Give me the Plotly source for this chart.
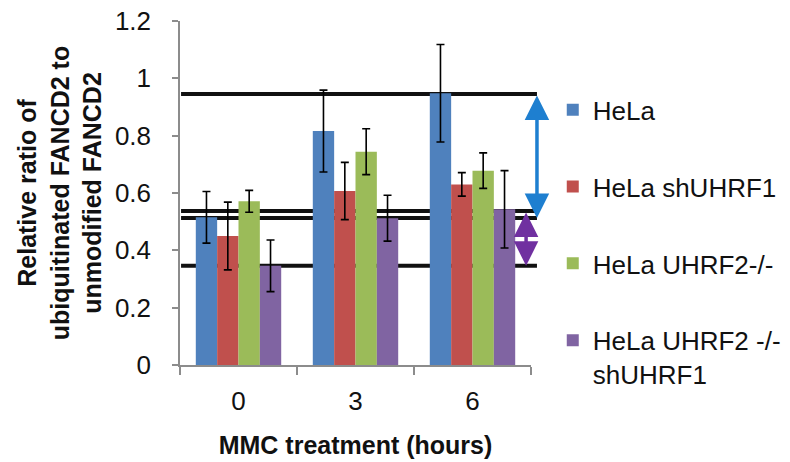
import plotly.graph_objects as go

categories = ["0", "3", "6"]
series_names = ["HeLa", "HeLa shUHRF1", "HeLa UHRF2-/-", "HeLa UHRF2 -/-<br>shUHRF1"]
series_colors = ["#4F81BD", "#C0504D", "#9BBB59", "#8064A2"]

hela = [0.515, 0.816, 0.948]
hela_err = [0.090, 0.143, 0.170]
hela_sh = [0.450, 0.607, 0.630]
hela_sh_err = [0.118, 0.100, 0.041]
hela_u2 = [0.571, 0.744, 0.678]
hela_u2_err = [0.038, 0.080, 0.062]
hela_u2_sh = [0.346, 0.512, 0.543]
hela_u2_sh_err = [0.090, 0.080, 0.135]

reference_levels = [0.945, 0.537, 0.513, 0.346]
blue_arrow = [0.945, 0.513]
purple_arrow = [0.537, 0.346]

y_ticks = [0, 0.2, 0.4, 0.6, 0.8, 1.0, 1.2]
y_ticklabels = ["0", "0.2", "0.4", "0.6", "0.8", "1", "1.2"]

FONT = "Liberation Sans, Arial, sans-serif"

fig = go.Figure()
all_vals = [hela, hela_sh, hela_u2, hela_u2_sh]
all_errs = [hela_err, hela_sh_err, hela_u2_err, hela_u2_sh_err]
for i, (name, col, vals, errs) in enumerate(zip(series_names, series_colors, all_vals, all_errs)):
    fig.add_trace(go.Bar(
        x=categories, y=vals, name=name, marker=dict(color=col, line=dict(width=0)),
        error_y=dict(type="data", array=errs, visible=True, color="black", thickness=1.6, width=4),
        legendgroup=f"g{i}",
    ))

for lvl in reference_levels:
    fig.add_shape(type="line", xref="paper", yref="y", x0=0.003, x1=1.017, y0=lvl, y1=lvl,
                  line=dict(color="#111111", width=4), layer="below")

for (top, bot), col, xp in [(blue_arrow, "#1E7FD0", 1.017), (purple_arrow, "#7030A0", 0.986)]:
    fig.add_annotation(xref="x domain", yref="y", axref="x domain", ayref="y",
                       x=xp, y=bot, ax=xp, ay=top, text="", showarrow=True,
                       arrowhead=2, arrowside="end+start", arrowsize=1.4, arrowwidth=3.5,
                       arrowcolor=col)

fig.update_layout(
    width=790, height=462,
    margin=dict(l=180, r=259, t=21, b=97, autoexpand=False),
    paper_bgcolor="white", plot_bgcolor="white",
    font=dict(family=FONT, color="#111111"),
    barmode="group", bargap=0.27, bargroupgap=0,
    showlegend=True,
    legend=dict(x=1.062, xanchor="left", y=0.81, yanchor="top",
                font=dict(size=26, family=FONT, color="#111111"),
                tracegroupgap=40, traceorder="grouped", itemwidth=30, valign="top",
                bgcolor="rgba(0,0,0,0)"),
    xaxis=dict(type="category", range=[-0.5, 2.5], showline=True, linecolor="#8c8c8c", linewidth=1.5,
               ticks="outside", tickson="boundaries", ticklen=8, tickcolor="#8c8c8c", tickwidth=1.5,
               ticklabelstandoff=12,
               tickfont=dict(size=26, family=FONT, color="#111111"), showgrid=False, zeroline=False,
               title=dict(text="<b>MMC treatment (hours)</b>", font=dict(size=25, family=FONT, color="#111111"),
                          standoff=22)),
    yaxis=dict(range=[0, 1.2], tickvals=y_ticks, ticktext=y_ticklabels, showline=True,
               linecolor="#8c8c8c", linewidth=1.5, ticks="outside", ticklen=6, tickcolor="#8c8c8c",
               tickwidth=1.5, showgrid=False, zeroline=False, ticklabelstandoff=16,
               tickfont=dict(size=26, family=FONT, color="#111111"),
               title=dict(text="<b>Relative ratio of<br>ubiquitinated FANCD2 to<br>unmodified FANCD2</b>",
                          font=dict(size=25, family=FONT, color="#111111"), standoff=6)),
)

fig.write_html("out.html")
